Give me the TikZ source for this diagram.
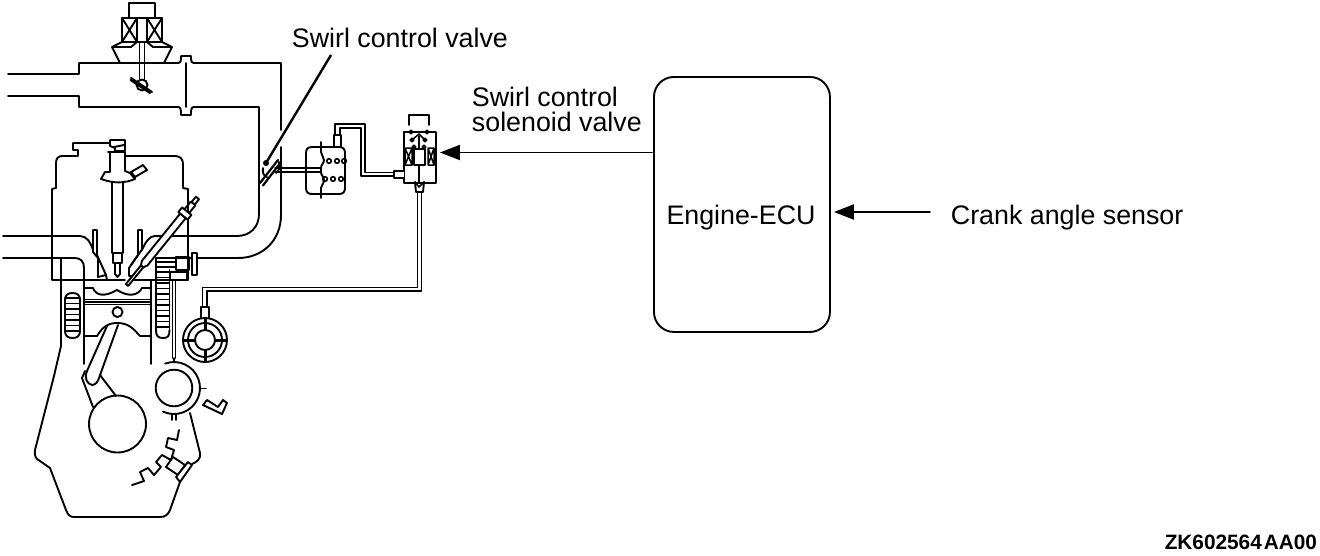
\documentclass[tikz,border=0pt]{standalone}
\usepackage{fontspec}
\setmainfont{Liberation Sans}
\usetikzlibrary{arrows.meta,calc}
\tikzset{
  ln/.style={line width=1.9pt,line join=round,line cap=round},
  thn/.style={line width=1.5pt,line join=round,line cap=round},
  hvy/.style={line width=3pt,line cap=butt},
  lbl/.style={font=\fontsize{26.8}{25.5}\selectfont,inner sep=0pt,align=left,anchor=west},
  ptr/.style={line width=1.9pt,-{Triangle[length=20pt,width=15pt]}},
}
\begin{document}
\begin{tikzpicture}[x=1pt,y=-1pt,ln]
\useasboundingbox (0,0) rectangle (1320,555);
% ===== intake pipe
\draw (8,74)--(79,74)--(79,63)--(178,63) .. controls (181,63) and (181,60) .. (181,56)--(191,56) .. controls (191,60) and (191,63) .. (194,63)--(281,63)--(281,130);
\draw (8,96)--(79,96)--(79,107)--(178,107) .. controls (181,107) and (181,110) .. (181,115)--(191,115) .. controls (191,110) and (191,107) .. (194,107)--(259,107)--(259,214) .. controls (259,227) and (250,236) .. (237,236)--(155,236);
\draw (186,63)--(186,107);
\draw (281,147)--(281,215) .. controls (281,240) and (263,258) .. (238,258)--(197,258);
% throttle actuator
\draw (129,18)--(129,3)--(155,3)--(155,18);
\draw (122,18) rectangle (162,42);
\draw (137,18)--(137,42) (147,18)--(147,42);
\draw (122,18)--(137,42) (137,18)--(122,42) (147,18)--(162,42) (162,18)--(147,42);
\draw (122,42)--(112,47)--(120,63) (112,47)--(131,47)--(137,42);
\draw (162,42)--(172,47)--(164,63) (172,47)--(153,47)--(147,42);
\draw (139.5,42)--(139.5,80) (144.5,42)--(144.5,80);
\draw (142,85) circle[radius=5.5];
\draw[line width=2pt] (131,78)--(152,92) (130.5,80)--(150,93);
% ===== cylinder head
\draw (110,143)--(73,143)--(73,150)--(78,150)--(78,156)--(62,156) .. controls (58,156) and (56,159) .. (56,163)--(56,188)--(52,189)--(52,235);
\draw (125,156)--(175,156) .. controls (180,156) and (183,159) .. (183,164)--(183,188)--(188,189)--(188,280);
% injector
\draw (110,143)--(110,146)--(115,148)--(115,151)--(125,151)--(125,140)--(110,140)--(110,143);
\draw (114,147)--(124,145);
\draw (108,152)--(125,152) (110,152)--(110,172)--(105,172)--(101,179) .. controls (115,184) and (125,183) .. (135,179)--(130,173)--(125,171)--(125,152);
\draw (112,183)--(112,253)--(123,253)--(123,183);
\draw (113,253)--(113,263)--(122,263)--(122,253);
\draw (115,263)--(115,274)--(117.5,277)--(120,274)--(120,263);
\draw (131,172)--(143,165)--(147,170)--(135,177)--cycle;
% ports
\draw (3,236)--(80,236) .. controls (87,236) and (91,243) .. (93,250);
\draw (3,258)--(75,258) .. controls (81,258) and (84,262) .. (84,268)--(84,280);
\draw (61,258)--(61,346)--(54,376)--(35,450) .. controls (34,456) and (36,459) .. (40,461)--(50,468)--(66,510) .. controls (68,515) and (70,517) .. (74,517)--(160,517) .. controls (165,517) and (168,515) .. (170,510)--(180,482);
\draw (52,235)--(52,280)--(84,280);
% valves
\draw (93,252)--(93,230)--(97,230)--(97,255)--(106,275)--(98,277)--(98,258) (93,252)--(98,258);
\draw (138,255)--(138,230)--(142,230)--(142,250);
\draw (138,255)--(129,268)--(129,276)--(134,276);
\draw (143,248)--(131,265);
\draw (143,248) .. controls (146,241) and (150,236) .. (155,236);
\draw (84,280)--(107,280)--(106,275) (107,280)--(125,280) (130,280)--(188,280);
% glow plug
\begin{scope}[shift={(127,285)},rotate=51]
\draw[fill=white] (0,-1.5)--(26,-1.5)--(26,1.5)--(0,1.5)--cycle;
\draw[fill=white] (24,-1.5)--(28,-3.6)--(89,-3.6)--(89,3.6)--(28,3.6)--(24,1.5)--cycle;
\draw[fill=white] (89,-6)--(95,-6)--(95,6)--(89,6)--cycle;
\draw (95,-3)--(105,-3)--(105,3)--(95,3);
\draw (105,-2)--(112,-2)--(112,2)--(105,2);
\end{scope}
% exhaust / bolt block
\draw (156,258)--(197,258);
\draw (156,258)--(156,330) (169.5,270)--(169.5,330);
\draw (176,257) rectangle (189,270);
\draw[fill=white] (192,253) rectangle (197,275);
\draw (170,272) rectangle (187,280);
\draw (172.5,280)--(172.5,358) (175.5,280)--(175.5,358);
\foreach \y in {262,267} \draw[thn] (157,\y)--(176,\y);
\foreach \y in {272,277.5,...,330} \draw[thn] (156,\y)--(169.5,\y);
\draw (156,330) .. controls (156,336) and (158,338) .. (163,338) .. controls (168,338) and (169.5,336) .. (169.5,330);
% left jacket
\draw (65,300) .. controls (65,295) and (68,293) .. (72.5,293) .. controls (77,293) and (80,295) .. (80,300)--(80,331) .. controls (80,336) and (77,338) .. (72.5,338) .. controls (68,338) and (65,336) .. (65,331)--cycle;
\foreach \y in {298,303.5,...,333} \draw[thn] (65,\y)--(80,\y);
% cylinder walls
\draw (84,280)--(84,364) (151,280)--(151,364);
% piston
\draw (84,288)--(93,288) .. controls (96,296) and (105,297) .. (117,290) .. controls (128,297) and (138,296) .. (142,288)--(151,288);
\draw[line width=1.7pt] (84,299.5)--(151,299.5) (84,302)--(151,302) (84,304.5)--(151,304.5);
\draw (117.5,312) circle[radius=5];
\draw (84,336)--(97,336) .. controls (102,328) and (107,323) .. (117,323) .. controls (128,323) and (133,328) .. (140,336)--(151,336);
% con rod
\draw (107,326)--(87,371) .. controls (84,378) and (87,384) .. (92,385) .. controls (96,385) and (98,381) .. (99,378)--(118,325);
\draw (85,371)--(82,378)--(93,407);
\draw (100,375)--(116,396);
\draw (117.5,424) circle[radius=28.5];
% crank-angle wheel
\draw (174,388) circle[radius=18.3];
\draw (165.1,363.6) arc[start angle=110,end angle=-115,radius=26pt];
\draw (174,358)--(174,362.5) (200,388.5)--(206,388.5) (172,414.5)--(172,420) (176,414.5)--(176,420);
\draw (203,405)--(207,400)--(218,407)--(223,400)--(227,403)--(222,414)--cycle;
\draw (190,413)--(200,453) .. controls (201,459) and (197,462) .. (192,464);
% timing gears zigzag
\draw (179,430)--(177,440)--(168,438)--(166,447)--(174,450)--(171,460)--(162,455)--(156,462)--(161,467)--(154,475)--(148,468)--(140,472)--(144,481)--(132,485);
\draw[fill=white] (166,467)--(173,457)--(185,465)--(178,475)--cycle;
\draw[fill=white] (176,477)--(188,462)--(192,465)--(180,482)--cycle;
% vacuum pump
\draw (205,340) circle[radius=22];
\draw (205,340) circle[radius=17];
\draw (205,340) circle[radius=10];
\draw[hvy] (183,340)--(195,340) (215,340)--(227,340) (205,318)--(205,330) (205,350)--(205,362);
\draw (201,318)--(201,307)--(209,307)--(209,318);
% pipe pump -> solenoid
\draw[thn] (202.5,307)--(202.5,287.5)--(417.5,287.5)--(417.5,192);
\draw[thn] (207,307)--(207,291)--(421.5,291)--(421.5,192);
% ===== swirl control valve
\draw[line width=2.2pt] (260,183)--(278,160) (263,185.5)--(281,162);
\draw (263,168) .. controls (262,173) and (264,176) .. (267,177);
\draw (279,162) .. controls (281,166) and (279,171) .. (276,173);
\draw[thn] (275,168)--(321,168) (275,172)--(321,172);
% diaphragm actuator
\draw (312,147)--(339,147) .. controls (343,147) and (345,149) .. (345,153)--(345,188) .. controls (345,192) and (343,194) .. (339,194)--(312,194) .. controls (308,194) and (306,192) .. (306,188)--(306,153) .. controls (306,149) and (308,147) .. (312,147)--cycle;
\draw (321,142)--(321,152) .. controls (321,155) and (324,157) .. (324,160) .. controls (324,164) and (321,164) .. (321,168)--(321,172) .. controls (321,176) and (324,176) .. (324,180) .. controls (324,184) and (321,185) .. (321,188)--(321,198);
\foreach \c in {(329,161),(337,161),(344,161),(325,179),(333,179),(341,179)} \draw[line width=1.6pt] \c circle[radius=2.3];
\draw (334,147)--(334,135)--(341,135)--(341,147);
\draw[thn] (335,135)--(335,124)--(365,124)--(365,172.5)--(394,172.5);
\draw[thn] (340,135)--(340,128)--(361,128)--(361,176)--(394,176);
% ===== solenoid
\node[draw,line width=1.9pt,minimum width=32pt,minimum height=51pt,inner sep=0pt,anchor=north west] (sol) at (403,131) {};
\draw[draw=white,line width=2.5pt] (403,172.5)--(403,176.5);
\draw (403,171)--(394,171)--(394,178)--(403,178);
\draw (409,125)--(409,115)--(429,115)--(429,125);
\draw[thn] (411,132) circle[radius=1.8] (427,132) circle[radius=1.8];
\draw[thn] (412,140)--(419,134)--(425,140);
\draw[thn] (412,140) circle[radius=1.8] (425,140) circle[radius=1.8] (414,147) circle[radius=1.8] (424,147) circle[radius=1.8];
\draw[thn] (419,136) -- (419,148);
\draw[thn] (405,148) rectangle (412,165) (405,148)--(412,165) (412,148)--(405,165);
\draw[thn] (428,148) rectangle (434,165) (428,148)--(434,165) (434,148)--(428,165);
\draw (414,149) rectangle (425,165);
\draw[thn] (419,165)--(419,182);
\draw (415,182)--(416,192)--(423,192)--(424,182);
\draw[thn] (415,182)--(419,187)--(424,182);
% ===== ECU and labels
\node[draw,line width=1.9pt,rounded corners=20pt,minimum width=176pt,minimum height=255pt,inner sep=0pt,anchor=north west] (ecu) at (653,76) {};
\node[lbl,anchor=center] (ecutext) at (741,217.5) {Engine-ECU};
\node[lbl] (crank) at (950,217.5) {Crank angle sensor};
\node[lbl] (swv) at (291,37.5) {Swirl control valve};
\node[lbl] (ssv) at (471,109.5) {Swirl control\\solenoid valve};
\node[font=\fontsize{20.8}{24}\selectfont\bfseries,inner sep=0pt,anchor=east] (code) at (1318,542) {ZK602564\kern2pt AA00};
\coordinate (flapdot) at (266,163);
\coordinate (lead) at (331,55);
\fill (flapdot) circle[radius=3];
\draw[line width=2.4pt,line cap=butt] (lead)--(flapdot);
\coordinate (ca) at (930,212);
\coordinate (cb) at (652,152.5);
\draw[ptr] (ca) -- ($(ecu.east |- ca)+(3,0)$);
\draw[ptr] (cb) -- ($(sol.east |- cb)+(3,0)$);
\end{tikzpicture}
\end{document}
